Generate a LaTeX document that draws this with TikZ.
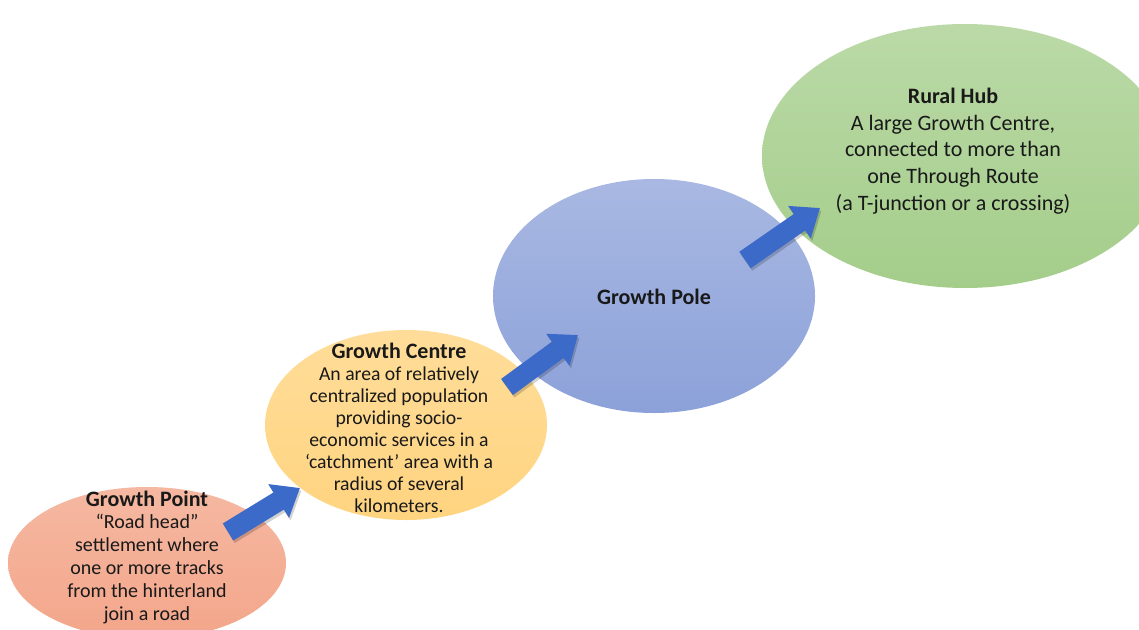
\documentclass[tikz,border=0pt]{standalone}
\usepackage{fontspec}
\setmainfont{Carlito}
\usetikzlibrary{shapes.geometric,arrows.meta}

\definecolor{pointfill}{RGB}{243,166,138}
\definecolor{centrefill}{RGB}{255,212,128}
\definecolor{polefill}{RGB}{140,161,217}
\definecolor{hubfill}{RGB}{164,205,138}
\definecolor{arrowblue}{RGB}{60,106,200}

\newcommand{\headline}[1]{{\fontsize{22}{22}\selectfont\bfseries #1}}

\tikzset{
  blob/.style={ellipse, inner sep=0pt, draw=none},
  blurb/.style={align=center, inner sep=0pt, text=black!90},
  push/.style={line width=20pt, draw=arrowblue, -{Triangle[width=38pt,length=25pt]}},
  pushshade/.style={push, draw=black, opacity=0.18},
}

\begin{document}
\begin{tikzpicture}[x=1pt,y=-1pt]
		%%%%% frame %%%%%
		\clip (0,0) rectangle (1139,629);
		\fill[white] (0,0) rectangle (1139,629);
		
		%%%%% ellipses %%%%%
		\node[blob, top color=hubfill!75!white, bottom color=hubfill, minimum width=406pt, minimum height=264pt] (hub) at (965,156) {};
		\node[blob, top color=polefill!75!white, bottom color=polefill, minimum width=322pt, minimum height=234pt] (pole) at (654,296) {};
		\node[blob, top color=centrefill!80!white, bottom color=centrefill, minimum width=282pt, minimum height=190pt] (centre) at (406,425) {};
		\node[blob, top color=pointfill!80!white, bottom color=pointfill, minimum width=278pt, minimum height=152pt] (point) at (147,563) {};
		
		%%%%% texts %%%%%
		\node[blurb, font=\fontsize{20}{22.8}\selectfont] (pointtxt) at (147,557) {\headline{Growth Point}\\“Road head”\\settlement where\\one or more tracks\\from the hinterland\\join a road};
		\node[blurb, font=\fontsize{19.7}{22}\selectfont] (centretxt) at (399,428) {\headline{Growth Centre}\\An area of relatively\\centralized population\\providing socio-\\economic services in a\\‘catchment’ area with a\\radius of several\\kilometers.};
		\node[blurb, font=\fontsize{22}{26}\selectfont\bfseries] (poletxt) at (654,297) {Growth Pole};
		\node[blurb, font=\fontsize{22}{26.7}\selectfont] (hubtxt) at (953,151) {\headline{Rural Hub}\\A large Growth Centre,\\connected to more than\\one Through Route\\(a T-junction or a crossing)};
		
		%%%%% arrows %%%%%
		\coordinate (pointout) at (228,532);
		\coordinate (centrein) at (300,488);
		\coordinate (centreout) at (507,387);
		\coordinate (polein) at (578,335);
		\coordinate (poleout) at (745,260);
		\coordinate (hubin) at (820,208);
		
		\draw[pushshade] ([shift={(1.5,2.5)}]pointout) -- ([shift={(1.5,2.5)}]centrein);
		\draw[pushshade] ([shift={(1.5,2.5)}]centreout) -- ([shift={(1.5,2.5)}]polein);
		\draw[pushshade] ([shift={(1.5,2.5)}]poleout) -- ([shift={(1.5,2.5)}]hubin);
		\draw[push] (pointout) -- (centrein);
		\draw[push] (centreout) -- (polein);
		\draw[push] (poleout) -- (hubin);
		
	\end{tikzpicture}
\end{document}
